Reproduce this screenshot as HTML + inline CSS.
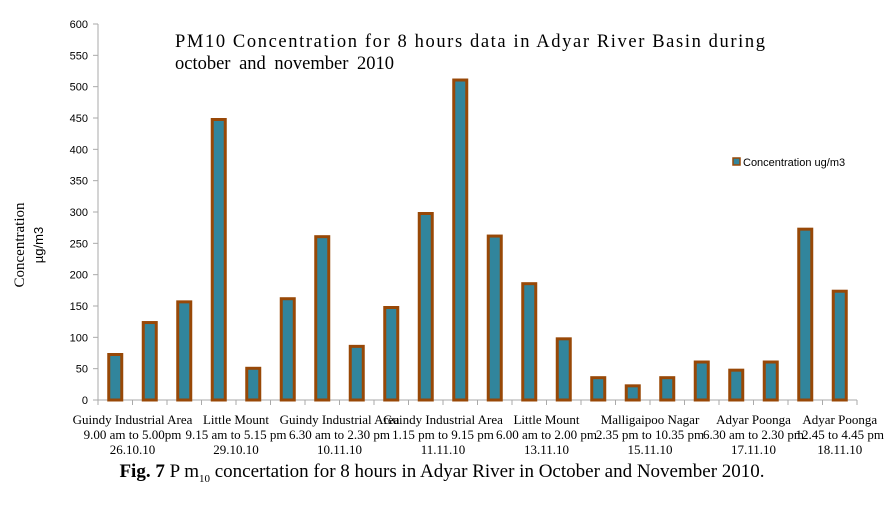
<!DOCTYPE html>
<html><head><meta charset="utf-8"><style>
body{margin:0;background:#fff;width:885px;height:503px;overflow:hidden}
svg text{font-family:"Liberation Serif",serif}
</style></head><body>
<svg width="885" height="503">
<g id="yaxis"></g><g id="xaxis"></g><g id="bars"></g>
<text x="175" y="47" font-size="18.5" textLength="590">PM10 Concentration  for 8 hours data in Adyar River Basin during</text>
<text x="175" y="69" font-size="18.5" word-spacing="4">october  and  november  2010</text>
<g>
<rect x="733" y="158" width="7" height="7" fill="#31859c" stroke="#984807" stroke-width="1.5"/>
<text x="743" y="166" font-size="11" style="font-family:'Liberation Sans',sans-serif">Concentration ug/m3</text>
</g>
<text transform="translate(24,245) rotate(-90)" text-anchor="middle" font-size="15">Concentration</text>
<text transform="translate(43,245) rotate(-90)" text-anchor="middle" font-size="13" style="font-family:'Liberation Sans',sans-serif">µg/m3</text>
<text x="442" y="477" text-anchor="middle" font-size="19"><tspan font-weight="bold">Fig. 7</tspan> P m<tspan font-size="11" dy="5">10</tspan><tspan dy="-5"> concertation for 8 hours in Adyar River in October and November 2010.</tspan></text>
</svg>
<script>
const values=[75,126,159,450,53,164,263,88,150,300,513,264,188,100,38,25,38,63,50,63,275,176];
const yTicks=[0,50,100,150,200,250,300,350,400,450,500,550,600];
const groupLabels=[
 {i:0.5,l:["Guindy Industrial Area","9.00 am to 5.00pm","26.10.10"]},
 {i:3.5,l:["Little Mount","9.15 am to 5.15 pm","29.10.10"]},
 {i:6.5,l:["Guindy Industrial Area","6.30 am to 2.30 pm","10.11.10"]},
 {i:9.5,l:["Guindy Industrial Area","1.15 pm to 9.15 pm","11.11.10"]},
 {i:12.5,l:["Little Mount","6.00 am to 2.00 pm","13.11.10"]},
 {i:15.5,l:["Malligaipoo Nagar","2.35 pm to 10.35 pm","15.11.10"]},
 {i:18.5,l:["Adyar Poonga","6.30 am to 2.30 pm","17.11.10"]},
 {i:21,l:["Adyar Poonga","12.45 to 4.45 pm","18.11.10"]}];
const NS="http://www.w3.org/2000/svg";
const X0=98,STEP=34.5,Y0=400,YMAX=600,H=376;
const y=v=>Y0-v/YMAX*H;
const xc=i=>X0+STEP*(i+0.5);
function mk(t,a,p){const e=document.createElementNS(NS,t);for(const k in a)e.setAttribute(k,a[k]);p.appendChild(e);return e;}
const ya=document.getElementById('yaxis'),xa=document.getElementById('xaxis'),bg=document.getElementById('bars');
const yl=mk('line',{x1:X0,y1:y(600),x2:X0,y2:Y0,stroke:'#aaa'},ya);


yTicks.forEach(t=>{
 const tk=mk('line',{x1:X0-5,x2:X0,y1:y(t),y2:y(t),stroke:'#aaa'},ya);
 
 
 const tx=mk('text',{x:88,y:y(t)+4,'text-anchor':'end','font-size':'11',style:"font-family:'Liberation Sans',sans-serif"},ya);
 tx.textContent=t;
 
 
});
const xl=mk('line',{x1:X0,y1:Y0,x2:X0+STEP*values.length,y2:Y0,stroke:'#aaa'},xa);


for(let i=0;i<=values.length;i++){
 const tk=mk('line',{x1:X0+STEP*i,x2:X0+STEP*i,y1:Y0,y2:Y0+5,stroke:'#aaa'},xa);
 
 
}
values.forEach((v,i)=>{
 const r=mk('rect',{x:xc(i)-6.5,y:y(v)+1.5,width:13,height:Math.max(0,Y0-y(v)-1.5),fill:'#31859c',stroke:'#984807','stroke-width':3},bg);
 
 
});
groupLabels.forEach(g=>{
 g.l.forEach((s,j)=>{
  const t=mk('text',{x:X0+STEP*(g.i+0.5),y:424+j*15,'text-anchor':'middle','font-size':'13'},xa);
  t.textContent=s;
  
  
 });
});
</script>
</body></html>
